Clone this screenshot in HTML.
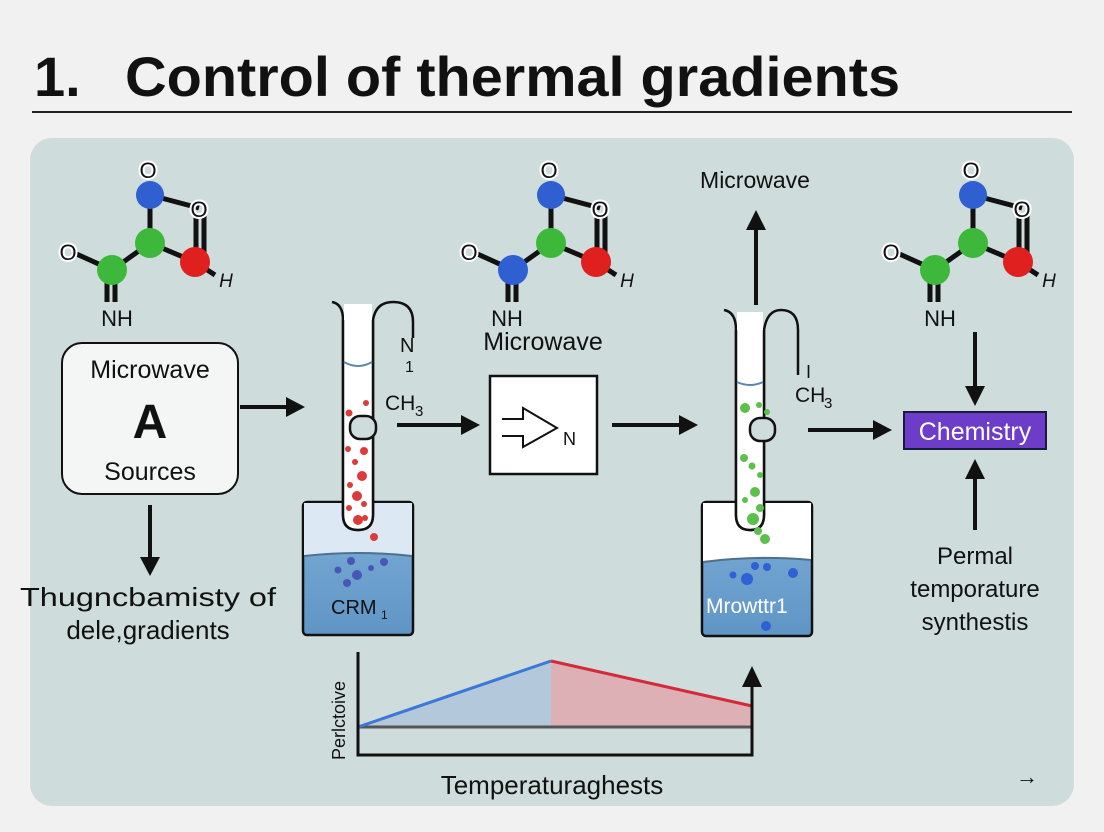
<!DOCTYPE html>
<html><head><meta charset="utf-8"><style>
html,body{margin:0;padding:0;background:#f1f1f1;}
svg{display:block;font-family:"Liberation Sans",sans-serif;}
.o{paint-order:stroke;stroke:#fff;stroke-width:4px;}
</style></head><body>
<svg width="1104" height="832" viewBox="0 0 1104 832" xmlns="http://www.w3.org/2000/svg">
<defs>
<linearGradient id="w1" x1="0" y1="0" x2="0" y2="1"><stop offset="0" stop-color="#7eaed6"/><stop offset="1" stop-color="#5f95c6"/></linearGradient>
</defs>
<rect x="0" y="0" width="1104" height="832" fill="#f1f1f1"/>
<text x="34" y="96" font-size="56" font-weight="bold" fill="#111">1.</text>
<text x="125" y="96" font-size="56" font-weight="bold" fill="#111" textLength="775" lengthAdjust="spacingAndGlyphs">Control of thermal gradients</text>
<line x1="32" y1="112" x2="1072" y2="112" stroke="#222" stroke-width="2"/>
<rect x="30" y="138" width="1044" height="668" rx="22" fill="#cfdcdc"/>

<g stroke="#111" stroke-width="5">
<line x1="150" y1="195" x2="150" y2="243"/><line x1="150" y1="195" x2="199" y2="208"/>
<line x1="196" y1="215" x2="196" y2="262"/><line x1="204" y1="215" x2="204" y2="262"/>
<line x1="150" y1="243" x2="195" y2="262"/><line x1="150" y1="243" x2="112" y2="270"/>
<line x1="112" y1="270" x2="72" y2="252"/><line x1="195" y1="262" x2="215" y2="275"/>
<line x1="107" y1="280" x2="107" y2="302"/><line x1="115" y1="280" x2="115" y2="302"/>
</g>
<circle cx="150" cy="195" r="14" fill="#2f5fd0"/><circle cx="150" cy="243" r="15" fill="#3db83a"/>
<circle cx="195" cy="262" r="15" fill="#e01f1f"/><circle cx="112" cy="270" r="15" fill="#3db83a"/>
<g font-size="22" fill="#111" text-anchor="middle"><text class="o" x="148" y="178">O</text><text class="o" x="199" y="217">O</text><text class="o" x="68" y="260">O</text><text x="117" y="326">NH</text><text x="226" y="287" font-style="italic" font-size="19">H</text></g>

<g transform="translate(401,0)">
<g stroke="#111" stroke-width="5">
<line x1="150" y1="195" x2="150" y2="243"/><line x1="150" y1="195" x2="199" y2="208"/>
<line x1="196" y1="215" x2="196" y2="262"/><line x1="204" y1="215" x2="204" y2="262"/>
<line x1="150" y1="243" x2="195" y2="262"/><line x1="150" y1="243" x2="112" y2="270"/>
<line x1="112" y1="270" x2="72" y2="252"/><line x1="195" y1="262" x2="215" y2="275"/>
<line x1="107" y1="280" x2="107" y2="302"/><line x1="115" y1="280" x2="115" y2="302"/>
</g>
<circle cx="150" cy="195" r="14" fill="#2f5fd0"/><circle cx="150" cy="243" r="15" fill="#3db83a"/>
<circle cx="195" cy="262" r="15" fill="#e01f1f"/><circle cx="112" cy="270" r="15" fill="#2f5fd0"/>
<g font-size="22" fill="#111" text-anchor="middle"><text class="o" x="148" y="178">O</text><text class="o" x="199" y="217">O</text><text class="o" x="68" y="260">O</text><text x="106" y="326">NH</text><text x="226" y="287" font-style="italic" font-size="19">H</text></g>
</g>

<g transform="translate(823,0)">
<g stroke="#111" stroke-width="5">
<line x1="150" y1="195" x2="150" y2="243"/><line x1="150" y1="195" x2="199" y2="208"/>
<line x1="196" y1="215" x2="196" y2="262"/><line x1="204" y1="215" x2="204" y2="262"/>
<line x1="150" y1="243" x2="195" y2="262"/><line x1="150" y1="243" x2="112" y2="270"/>
<line x1="112" y1="270" x2="72" y2="252"/><line x1="195" y1="262" x2="215" y2="275"/>
<line x1="107" y1="280" x2="107" y2="302"/><line x1="115" y1="280" x2="115" y2="302"/>
</g>
<circle cx="150" cy="195" r="14" fill="#2f5fd0"/><circle cx="150" cy="243" r="15" fill="#3db83a"/>
<circle cx="195" cy="262" r="15" fill="#e01f1f"/><circle cx="112" cy="270" r="15" fill="#3db83a"/>
<g font-size="22" fill="#111" text-anchor="middle"><text class="o" x="148" y="178">O</text><text class="o" x="199" y="217">O</text><text class="o" x="68" y="260">O</text><text x="117" y="326">NH</text><text x="226" y="287" font-style="italic" font-size="19">H</text></g>
</g>

<rect x="62" y="343" width="176" height="151" rx="20" fill="#f4f5f5" stroke="#111" stroke-width="2"/>
<g text-anchor="middle" fill="#111">
<text x="150" y="378" font-size="25">Microwave</text>
<text x="150" y="438" font-size="48" font-weight="bold">A</text>
<text x="150" y="480" font-size="25">Sources</text>
<text x="148" y="606" font-size="26" textLength="256" lengthAdjust="spacingAndGlyphs">Thugncbamisty of</text>
<text x="148" y="639" font-size="26">dele,gradients</text>
<text x="543" y="350" font-size="25">Microwave</text>
<text x="755" y="188" font-size="23">Microwave</text>
<text x="975" y="564" font-size="24">Permal</text>
<text x="975" y="597" font-size="24">temporature</text>
<text x="975" y="630" font-size="24">synthestis</text>
<text x="552" y="794" font-size="26">Temperaturaghests</text>
</g>

<g stroke="#111" stroke-width="4" fill="none">
<line x1="240" y1="407" x2="290" y2="407"/>
<line x1="150" y1="505" x2="150" y2="560"/>
<line x1="397" y1="425" x2="465" y2="425"/>
<line x1="612" y1="425" x2="683" y2="425"/>
<line x1="756" y1="305" x2="756" y2="228"/>
<line x1="808" y1="430" x2="876" y2="430"/>
<line x1="975" y1="332" x2="975" y2="390"/>
<line x1="975" y1="530" x2="975" y2="475"/>
</g>
<g fill="#111">
<path d="M305,407 L286,397 L286,417Z"/>
<path d="M150,576 L140,557 L160,557Z"/>
<path d="M480,425 L461,415 L461,435Z"/>
<path d="M698,425 L679,415 L679,435Z"/>
<path d="M756,210 L746,230 L766,230Z"/>
<path d="M892,430 L873,420 L873,440Z"/>
<path d="M975,406 L965,386 L985,386Z"/>
<path d="M975,459 L965,479 L985,479Z"/>
</g>

<rect x="303" y="502" width="110" height="133" rx="4" fill="url(#w1)" stroke="#111" stroke-width="2.5"/>
<path d="M304,503 L412,503 L412,556 Q358,550 304,556Z" fill="#dce9f5"/>
<path d="M304,556 Q358,550 412,556" stroke="#4f6f8a" stroke-width="2" fill="none"/>
<path d="M332,302 Q343,304 343,320 L343,515 Q343,530 358,530 Q373,530 373,515 L373,320 Q376,302 393,302 Q413,302 413,322 L413,338" fill="none" stroke="#111" stroke-width="2.5"/>
<path d="M344,304 L372,304 L372,515 Q372,529 358,529 Q344,529 344,515Z" fill="#fff"/>
<path d="M343,320 L343,515 Q343,530 358,530 Q373,530 373,515 L373,320" fill="none" stroke="#111" stroke-width="2.5"/>
<path d="M344,362 Q358,370 372,362" stroke="#5b86b0" stroke-width="2" fill="none"/>
<rect x="350" y="416" width="26" height="23" rx="10" fill="#cfdcdc" stroke="#111" stroke-width="2.5"/>
<g fill="#dd3b3b"><circle cx="349" cy="413" r="3.5"/><circle cx="366" cy="403" r="3"/><circle cx="348" cy="449" r="3"/><circle cx="364" cy="451" r="4"/><circle cx="355" cy="462" r="3"/><circle cx="362" cy="476" r="5"/><circle cx="350" cy="485" r="3"/><circle cx="357" cy="496" r="5"/><circle cx="364" cy="504" r="3"/><circle cx="349" cy="508" r="3"/><circle cx="358" cy="520" r="5"/><circle cx="374" cy="537" r="4"/><circle cx="365" cy="518" r="3"/></g>
<g fill="#4a55b8"><circle cx="351" cy="561" r="4"/><circle cx="384" cy="562" r="4"/><circle cx="338" cy="570" r="3.5"/><circle cx="357" cy="575" r="5"/><circle cx="371" cy="568" r="3"/><circle cx="347" cy="583" r="4"/></g>
<text x="331" y="614" font-size="20" fill="#111">CRM</text><text x="381" y="619" font-size="12" fill="#111">1</text>
<g fill="#111"><text x="400" y="352" font-size="20">N</text><text x="405" y="372" font-size="16">1</text><text x="385" y="410" font-size="21">CH</text><text x="415" y="416" font-size="15">3</text></g>

<rect x="490" y="376" width="107" height="98" fill="#fff" stroke="#111" stroke-width="2.5"/>
<path d="M502,419 L523,419 L523,408 L557,428 L523,447 L523,436 L502,436" fill="none" stroke="#111" stroke-width="2"/>
<text x="563" y="445" font-size="18" fill="#111">N</text>

<rect x="702" y="502" width="110" height="134" rx="4" fill="url(#w1)" stroke="#111" stroke-width="2.5"/>
<path d="M703,503 L811,503 L811,560 Q756,555 703,562Z" fill="#fff"/>
<path d="M703,562 Q756,555 811,560" stroke="#4f6f8a" stroke-width="2" fill="none"/>
<path d="M724,310 Q736,312 736,330 L736,515 Q736,530 750,530 Q764,530 764,515 L764,330 Q767,310 781,310 Q798,310 798,330 L798,375" fill="none" stroke="#111" stroke-width="2.5"/>
<path d="M737,312 L763,312 L763,515 Q763,529 750,529 Q737,529 737,515Z" fill="#fff"/>
<path d="M736,330 L736,515 Q736,530 750,530 Q764,530 764,515 L764,330" fill="none" stroke="#111" stroke-width="2.5"/>
<path d="M737,382 Q750,388 763,382" stroke="#5b86b0" stroke-width="2" fill="none"/>
<rect x="750" y="418" width="25" height="23" rx="10" fill="#cfdcdc" stroke="#111" stroke-width="2.5"/>
<g fill="#5cc04c"><circle cx="759" cy="405" r="3"/><circle cx="745" cy="408" r="5"/><circle cx="767" cy="412" r="3"/><circle cx="744" cy="458" r="4"/><circle cx="752" cy="466" r="3.5"/><circle cx="760" cy="475" r="3"/><circle cx="755" cy="492" r="5"/><circle cx="745" cy="500" r="3"/><circle cx="760" cy="508" r="4"/><circle cx="753" cy="519" r="6"/><circle cx="758" cy="531" r="4"/><circle cx="765" cy="539" r="5"/></g>
<g fill="#2f60d6"><circle cx="755" cy="566" r="4"/><circle cx="767" cy="567" r="4"/><circle cx="733" cy="575" r="3.5"/><circle cx="747" cy="579" r="6"/><circle cx="793" cy="573" r="5"/><circle cx="766" cy="626" r="5"/></g>
<text x="706" y="613" font-size="21" fill="#fff">Mrowttr1</text>
<g fill="#111"><text x="806" y="378" font-size="18">I</text><text x="795" y="402" font-size="21">CH</text><text x="824" y="408" font-size="15">3</text></g>

<rect x="904" y="412" width="142" height="37" fill="#6d3cc8" stroke="#1a1a3a" stroke-width="2"/>
<text x="975" y="440" font-size="25" fill="#fff" text-anchor="middle">Chemistry</text>

<path d="M358,727 L551,661 L551,727Z" fill="#b4c8dc"/>
<path d="M551,661 L752,706 L752,727 L551,727Z" fill="#dcb0b4"/>
<line x1="358" y1="727" x2="752" y2="727" stroke="#555" stroke-width="3"/>
<line x1="358" y1="727" x2="551" y2="661" stroke="#3b78d8" stroke-width="3"/>
<line x1="551" y1="661" x2="752" y2="706" stroke="#d42a3a" stroke-width="3"/>
<path d="M358,652 L358,755 L752,755 L752,685" fill="none" stroke="#111" stroke-width="3"/>
<path d="M752,666 L742,687 L762,687Z" fill="#111"/>
<text transform="translate(345,760) rotate(-90)" font-size="18" fill="#111">Perlctoive</text>
<text x="1016" y="784" font-size="22" fill="#111">→</text>
</svg>
</body></html>
